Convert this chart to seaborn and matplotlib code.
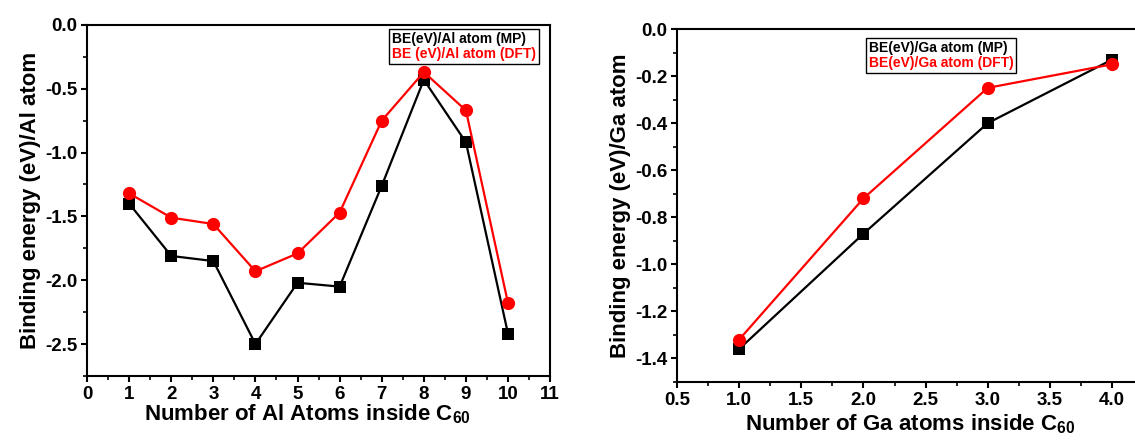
import matplotlib
matplotlib.use("Agg")
import matplotlib.pyplot as plt
from matplotlib.lines import Line2D
from matplotlib.ticker import MultipleLocator
import numpy as np
import pandas as pd
import seaborn as sns

# Binding energy per Al atom for Al_n@C60
al_n = [1, 2, 3, 4, 5, 6, 7, 8, 9, 10]
al_mp = [-1.40, -1.81, -1.85, -2.50, -2.02, -2.05, -1.26, -0.43, -0.92, -2.42]
al_dft = [-1.32, -1.51, -1.56, -1.93, -1.79, -1.47, -0.75, -0.37, -0.67, -2.18]

# Binding energy per Ga atom for Ga_n@C60
ga_n = [1.0, 2.0, 3.0, 4.0]
ga_mp = [-1.36, -0.87, -0.40, -0.13]
ga_dft = [-1.32, -0.72, -0.25, -0.15]

al_labels = ["BE(eV)/Al atom (MP)", "BE (eV)/Al atom (DFT)"]
ga_labels = ["BE(eV)/Ga atom (MP)", "BE(eV)/Ga atom (DFT)"]

sns.set_theme(style="ticks")
plt.rcParams["font.family"] = ["Liberation Sans", "DejaVu Sans"]
plt.rcParams["font.weight"] = "bold"
plt.rcParams["axes.labelweight"] = "bold"
plt.rcParams["text.color"] = "black"
plt.rcParams["axes.labelcolor"] = "black"
plt.rcParams["xtick.color"] = "black"
plt.rcParams["ytick.color"] = "black"
plt.rcParams["mathtext.fontset"] = "custom"
plt.rcParams["mathtext.rm"] = "Liberation Sans:bold"
plt.rcParams["mathtext.bf"] = "Liberation Sans:bold"
plt.rcParams["mathtext.it"] = "Liberation Sans:bold"

TICK_SIZE = 13.5
LABEL_SIZE = 16
LEGEND_SIZE = 10

fig = plt.figure(figsize=(11.35, 4.4), dpi=100)
ax1 = fig.add_axes([0.0767, 0.1455, 0.408, 0.798])
ax2 = fig.add_axes([0.5965, 0.132, 0.4106, 0.802])


def draw(ax, x, mp, dft, labels):
    df = pd.DataFrame({
        "n": list(x) * 2,
        "be": list(mp) + list(dft),
        "method": [labels[0]] * len(x) + [labels[1]] * len(x),
    })
    sns.lineplot(data=df, x="n", y="be", hue="method", style="method",
                 palette={labels[0]: "black", labels[1]: "red"},
                 markers={labels[0]: "s", labels[1]: "o"},
                 dashes=False, linewidth=1.6, markeredgewidth=0,
                 legend=False, ax=ax, sort=False)
    for line in ax.lines:
        if line.get_marker() == "s":
            line.set_markersize(8)
        else:
            line.set_markersize(9.5)
    return [Line2D([], [], linestyle="none", marker="none") for _ in labels]


def style_axes(ax):
    for side in ["left", "bottom", "top", "right"]:
        ax.spines[side].set_visible(True)
        ax.spines[side].set_linewidth(1.5)
        ax.spines[side].set_color("black")
    ax.tick_params(which="major", direction="out", length=4, width=1.5,
                   labelsize=TICK_SIZE, colors="black", pad=3)
    ax.tick_params(which="minor", direction="out", length=3, width=1.2,
                   colors="black")
    ax.tick_params(which="both", top=False, right=False)
    for lab in ax.get_xticklabels() + ax.get_yticklabels():
        lab.set_fontweight("bold")


def add_legend(ax, handles, labels, anchor, loc):
    leg = ax.legend(handles, labels, loc=loc, bbox_to_anchor=anchor,
                    frameon=True, handlelength=0, handletextpad=0,
                    borderpad=0.2, labelspacing=0.1, fancybox=False,
                    framealpha=1, prop={"weight": "bold", "size": LEGEND_SIZE},
                    labelcolor=["black", "red"])
    leg.get_frame().set_edgecolor("black")
    leg.get_frame().set_linewidth(1.0)
    return leg


# Left panel: aluminium
h1 = draw(ax1, al_n, al_mp, al_dft, al_labels)
ax1.set_xlim(0, 11)
ax1.set_ylim(-2.75, 0.0)
ax1.xaxis.set_major_locator(MultipleLocator(1))
ax1.xaxis.set_minor_locator(MultipleLocator(0.5))
ax1.set_yticks([0.0, -0.5, -1.0, -1.5, -2.0, -2.5])
ax1.set_yticklabels(["0.0", "-0.5", "-1.0", "-1.5", "-2.0", "-2.5"])
ax1.yaxis.set_minor_locator(MultipleLocator(0.25))
style_axes(ax1)
ax1.set_xlabel(r"Number of Al Atoms inside C$_{60}$", fontsize=LABEL_SIZE,
               fontweight="bold", labelpad=1)
ax1.xaxis.set_label_coords(0.475, -0.075)
ax1.set_ylabel("Binding energy (eV)/Al atom", fontsize=LABEL_SIZE,
               fontweight="bold", labelpad=3)
add_legend(ax1, h1, al_labels, (0.99, 1.008), "upper right")

# Right panel: gallium
h2 = draw(ax2, ga_n, ga_mp, ga_dft, ga_labels)
ax2.set_xlim(0.5, 4.25)
ax2.set_ylim(-1.5, 0.0)
ax2.set_xticks([0.5, 1.0, 1.5, 2.0, 2.5, 3.0, 3.5, 4.0])
ax2.set_xticklabels(["0.5", "1.0", "1.5", "2.0", "2.5", "3.0", "3.5", "4.0"])
ax2.xaxis.set_minor_locator(MultipleLocator(0.25))
ax2.set_yticks([0.0, -0.2, -0.4, -0.6, -0.8, -1.0, -1.2, -1.4])
ax2.set_yticklabels(["0.0", "-0.2", "-0.4", "-0.6", "-0.8", "-1.0", "-1.2", "-1.4"])
ax2.yaxis.set_minor_locator(MultipleLocator(0.1))
style_axes(ax2)
ax2.set_xlabel(r"Number of Ga atoms inside C$_{60}$", fontsize=LABEL_SIZE,
               fontweight="bold", labelpad=1)
ax2.xaxis.set_label_coords(0.5, -0.085)
ax2.set_ylabel("Binding energy (eV)/Ga atom", fontsize=LABEL_SIZE,
               fontweight="bold", labelpad=3)
add_legend(ax2, h2, ga_labels, (0.39, 0.995), "upper left")

fig.savefig("out.png", dpi=100)
